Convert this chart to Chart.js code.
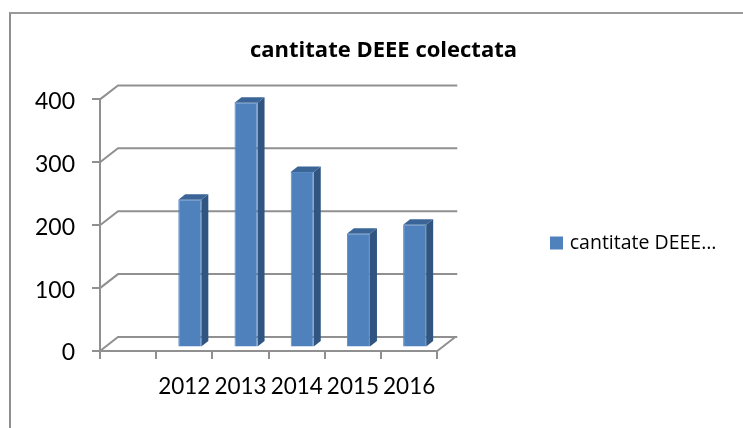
<!DOCTYPE html>
<html>
<head>
<meta charset="utf-8">
<style>
  html, body { margin: 0; padding: 0; background: #fff; overflow: hidden; }
  #frame { position: absolute; left: 9px; top: 12px; width: 734px; height: 416px; box-sizing: border-box;
           border-left: 2px solid #8f8f8f; border-top: 2px solid #9a9a9a; }
  #wrap { position: absolute; left: 0; top: 0; width: 743px; height: 428px; }
</style>
</head>
<body>
<div id="frame"></div>
<div id="wrap"><canvas id="chart" width="743" height="428"></canvas></div>
<script src="https://cdn.jsdelivr.net/npm/chart.js@4"></script>
<script>
// Data
const categories = ['', '2012', '2013', '2014', '2015', '2016'];
const seriesValues = [null, 235, 389, 279, 181, 195];
const seriesName = 'cantitate DEEE colectata';
const legendLabel = 'cantitate DEEE…';
const yTicks = [0, 100, 200, 300, 400];

// Look of the fake 3D box
const DEPTH_X = 18, DEPTH_Y = 14;       // back wall offset
const BAR_DX = 5.5, BAR_DY = -3.5;      // bars stand a bit inside the floor
const BAR_SIDE_X = 7, BAR_SIDE_Y = 5.5; // thickness of the bars
const FONT = 'Lato, sans-serif';
const WIDE_FONT = '"Open Sans", sans-serif';
const GRID_COLOR = '#909090';

function poly(c, pts, fill) {
  c.fillStyle = fill;
  c.beginPath();
  pts.forEach((p, i) => i ? c.lineTo(p[0], p[1]) : c.moveTo(p[0], p[1]));
  c.closePath();
  c.fill();
}

// Back wall lines and the right edge of the floor
const wallPlugin = {
  id: 'wall',
  beforeDatasetsDraw(chart) {
    const c = chart.ctx, y = chart.scales.y, a = chart.chartArea;
    c.save();
    c.strokeStyle = GRID_COLOR;
    c.lineWidth = 2;
    yTicks.forEach(t => {
      const py = y.getPixelForValue(t);
      c.beginPath();
      c.moveTo(a.left, py);
      c.lineTo(a.left + DEPTH_X, py - DEPTH_Y);
      c.lineTo(a.right + DEPTH_X + 2, py - DEPTH_Y);
      c.stroke();
    });
    const y0 = y.getPixelForValue(0);
    c.beginPath();
    c.moveTo(a.right, y0);
    c.lineTo(a.right + DEPTH_X, y0 - DEPTH_Y);
    c.stroke();
    c.restore();
  }
};

// Side and top faces, the front is the normal bar drawn by Chart.js
const boxPlugin = {
  id: 'box',
  beforeDatasetDraw(chart, args) {
    const c = chart.ctx;
    c.save();
    c.translate(BAR_DX, BAR_DY);
    args.meta.data.forEach((bar, i) => {
      if (seriesValues[i] == null) return;
      const p = bar.getProps(['x', 'y', 'base', 'width'], true);
      const l = p.x - p.width / 2, r = p.x + p.width / 2;
      poly(c, [[r, p.y], [r + BAR_SIDE_X, p.y - BAR_SIDE_Y], [r + BAR_SIDE_X, p.base - BAR_SIDE_Y], [r, p.base]], '#2f5580');
      poly(c, [[l, p.y], [l + BAR_SIDE_X, p.y - BAR_SIDE_Y], [r + BAR_SIDE_X, p.y - BAR_SIDE_Y], [r, p.y]], '#3a6596');
    });
  },
  afterDatasetDraw(chart) {
    chart.ctx.restore();
  }
};

// Title and legend do not sit where the layout boxes put them
const placePlugin = {
  id: 'place',
  afterLayout(chart) {
    const t = chart.titleBlock, l = chart.legend;
    const tx = 383.5 - (t.left + t.right) / 2;
    t.left += tx; t.right += tx;
    const dy = 243 - (l.top + l.bottom) / 2;
    l.left = 541;
    l.right = 743; // legend clips to its box, chart.js only gives it a quarter of the width
    l.top += dy; l.bottom += dy;
  }
};

new Chart(document.getElementById('chart').getContext('2d'), {
  type: 'bar',
  data: {
    labels: categories,
    datasets: [{
      label: seriesName,
      data: seriesValues,
      backgroundColor: '#4f81bd',
      borderColor: '#5a89c3',
      borderWidth: 1,
      barPercentage: 0.41,
      categoryPercentage: 1,
      clip: false
    }]
  },
  options: {
    responsive: false,
    animation: false,
    layout: { padding: { left: 0, right: 160, top: 0, bottom: 0 } },
    plugins: {
      tooltip: { enabled: false },
      title: {
        display: true,
        text: seriesName,
        color: '#000',
        font: { family: WIDE_FONT, size: 22, weight: 'bold' },
        padding: { top: 38, bottom: 35 }
      },
      legend: {
        position: 'right',
        labels: {
          color: '#000',
          font: { family: WIDE_FONT, size: 19.5 },
          boxWidth: 7,
          boxHeight: 7,
          padding: 12,
          generateLabels: () => [{ text: legendLabel, fillStyle: '#4f81bd', strokeStyle: '#4f81bd', lineWidth: 6, datasetIndex: 0 }]
        }
      }
    },
    scales: {
      x: {
        grid: { drawOnChartArea: false, tickLength: 8, color: GRID_COLOR, lineWidth: 2 },
        border: { color: GRID_COLOR, width: 2 },
        ticks: { color: '#000', font: { family: FONT, size: 22.5 }, autoSkip: false, maxRotation: 0, padding: 14 },
        afterFit: s => { s.height = 77; }
      },
      y: {
        min: 0,
        max: 400,
        afterBuildTicks: s => { s.ticks = yTicks.map(v => ({ value: v })); },
        grid: { drawOnChartArea: false, tickLength: 8, color: GRID_COLOR, lineWidth: 2 },
        border: { color: GRID_COLOR, width: 2 },
        ticks: {
          color: '#000',
          font: { family: FONT, size: 23, lineHeight: '4px' },
          padding: 17,
          callback: v => ['', String(v)] // nudges the number down to the tick
        },
        afterFit: s => { s.width = 100; }
      }
    }
  },
  plugins: [wallPlugin, boxPlugin, placePlugin]
});
</script>
</body>
</html>
